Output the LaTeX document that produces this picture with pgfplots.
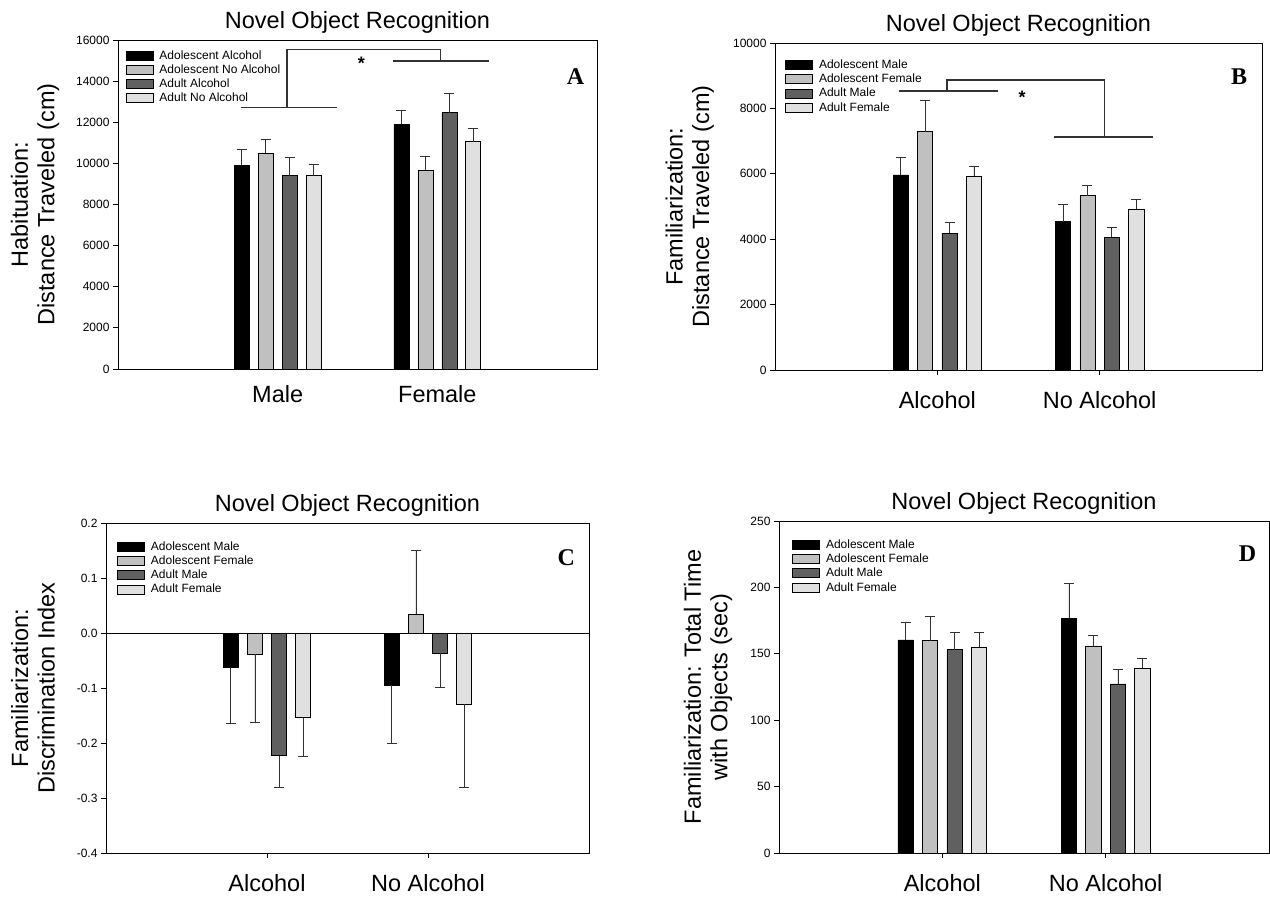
\documentclass[border=0pt]{standalone}
\usepackage{pgfplots}
\pgfplotsset{compat=1.18}
\usepackage{fontspec}
\setmainfont{Liberation Sans}
\newfontfamily\seriffont{Liberation Serif}
\definecolor{cA}{RGB}{0,0,0}
\definecolor{cB}{RGB}{192,192,192}
\definecolor{cC}{RGB}{96,96,96}
\definecolor{cD}{RGB}{224,224,224}
\pgfplotsset{
  panel/.style={
    scale only axis, clip=false,
    xmin=0, xmax=3, xtick={1,2},
    ytick pos=left, xtick pos=bottom,
    tick align=outside, major tick length=5pt,
    axis line style={black, line width=0.8pt},
    tick style={black, line width=0.8pt},
    /pgf/number format/assume math mode=true,
    /pgf/number format/1000 sep={},
    scaled y ticks=false,
    yticklabel style={font=\fontsize{12}{14}\selectfont},
    xticklabel style={font=\fontsize{23.5}{27}\selectfont, anchor=center, yshift=-25pt},
    title style={font=\fontsize{23.5}{27}\selectfont, at={(axis description cs:0.5,1)}, anchor=center, yshift=12pt},
    ylabel style={font=\fontsize{23.5}{26.5}\selectfont, align=center, anchor=center},
    ybar, bar width=0.094, bar shift=0pt,
    legend style={draw=none, fill=none, inner sep=0pt, font=\fontsize{12}{14}\selectfont, row sep=0pt, column sep=4pt, cells={anchor=west}},
    legend cell align=left,
    legend image code/.code={\draw[#1, draw=black, line width=0.6pt] (0pt,-4.5pt) rectangle (27pt,4.5pt);},
  },
  errs/.style={error bars/.cd, y dir=#1, y explicit,
    error bar style={black!80, line width=0.7pt},
    error mark options={black!80, line width=0.7pt, mark size=5pt, rotate=90}},
  bar1/.style={fill=cA, draw=black, line width=0.6pt},
  bar2/.style={fill=cB, draw=black, line width=0.6pt},
  bar3/.style={fill=cC, draw=black, line width=0.6pt},
  bar4/.style={fill=cD, draw=black, line width=0.6pt},
}
\tikzset{bracket/.style={black!80, line width=1.6pt},
  letter/.style={font=\seriffont\bfseries\fontsize{24}{26}\selectfont}}
\begin{document}
\begin{tikzpicture}
\useasboundingbox (0,0) rectangle (1270pt,897pt);
% ---------------- Panel A ----------------
\begin{axis}[panel, at={(118pt,528pt)}, anchor=south west, width=479pt, height=329pt,
  ymin=0, ymax=16000, ytick={0,2000,...,16000},
  xticklabels={Male,Female}, xtick style={draw=none},
  xticklabel style={yshift=5pt},
  title={Novel Object Recognition},
  ylabel={Habituation:\\Distance Traveled (cm)},
  ylabel style={at={(axis description cs:-0.173,0.5)}},
  legend style={at={(0.016,0.975)}, anchor=north west}]
\addplot[bar1, errs=plus] coordinates {(0.775,9915) +- (0,779) (1.775,11894) +- (0,682)};
\addplot[bar2, errs=plus] coordinates {(0.925,10499) +- (0,681) (1.925,9671) +- (0,649)};
\addplot[bar3, errs=plus] coordinates {(1.075,9396) +- (0,908) (2.075,12463) +- (0,924)};
\addplot[bar4, errs=plus] coordinates {(1.225,9400) +- (0,547) (2.225,11051) +- (0,633)};
\legend{Adolescent Alcohol, Adolescent No Alcohol, Adult Alcohol, Adult No Alcohol}
\draw[bracket] (axis cs:0.768,12722) -- (axis cs:1.370,12722);
\draw[bracket] (axis cs:1.060,12722) -- (axis cs:1.060,15546) -- (axis cs:2.021,15546) -- (axis cs:2.021,14978);
\draw[bracket] (axis cs:1.721,14978) -- (axis cs:2.326,14978);
\node[font=\fontsize{18}{20}\selectfont\bfseries] at (axis cs:1.525,14850) {*};
\node[letter] at (rel axis cs:0.955,0.89) {A};
\end{axis}
% ---------------- Panel B ----------------
\begin{axis}[panel, at={(775pt,527pt)}, anchor=south west, width=487pt, height=327pt,
  ymin=0, ymax=10000, ytick={0,2000,...,10000},
  xticklabels={Alcohol,No Alcohol},
  title={Novel Object Recognition},
  ylabel={Familiarization:\\Distance Traveled (cm)},
  ylabel style={at={(axis description cs:-0.175,0.5)}},
  legend style={at={(0.021,0.955)}, anchor=north west}]
\addplot[bar1, errs=plus] coordinates {(0.775,5967) +- (0,550) (1.775,4532) +- (0,519)};
\addplot[bar2, errs=plus] coordinates {(0.925,7291) +- (0,968) (1.925,5336) +- (0,306)};
\addplot[bar3, errs=plus] coordinates {(1.075,4185) +- (0,336) (2.075,4063) +- (0,285)};
\addplot[bar4, errs=plus] coordinates {(1.225,5937) +- (0,285) (2.225,4929) +- (0,275)};
\legend{Adolescent Male, Adolescent Female, Adult Male, Adult Female}
\draw[bracket] (axis cs:0.763,8534) -- (axis cs:1.376,8534);
\draw[bracket] (axis cs:1.061,8534) -- (axis cs:1.061,8870) -- (axis cs:2.030,8870) -- (axis cs:2.030,7130);
\draw[bracket] (axis cs:1.717,7130) -- (axis cs:2.328,7130);
\node[font=\fontsize{18}{20}\selectfont\bfseries] at (axis cs:1.523,8330) {*};
\node[letter] at (rel axis cs:0.953,0.898) {B};
\end{axis}
% ---------------- Panel C ----------------
\begin{axis}[panel, at={(106pt,44pt)}, anchor=south west, width=483pt, height=330pt,
  ymin=-0.4, ymax=0.2, ytick={-0.4,-0.3,-0.2,-0.1,0,0.1,0.2},
  yticklabel style={/pgf/number format/.cd, fixed, fixed zerofill, precision=1},
  xticklabels={Alcohol,No Alcohol},
  title={Novel Object Recognition},
  ylabel={Familiarization:\\Discrimination Index},
  ylabel style={at={(axis description cs:-0.151,0.5)}},
  legend style={at={(0.023,0.95)}, anchor=north west}]
\addplot[bar1, errs=minus] coordinates {(0.775,-0.062) +- (0,0.103) (1.775,-0.095) +- (0,0.106)};
\addplot[bar2, errs=minus] coordinates {(0.925,-0.039) +- (0,0.124)};
\addplot[bar3, errs=minus] coordinates {(1.075,-0.223) +- (0,0.057) (2.075,-0.036) +- (0,0.062)};
\addplot[bar4, errs=minus] coordinates {(1.225,-0.154) +- (0,0.071) (2.225,-0.129) +- (0,0.152)};
\addplot[forget plot, bar2, errs=plus] coordinates {(1.925,0.034) +- (0,0.117)};
\legend{Adolescent Male, Adolescent Female, Adult Male, Adult Female}
\draw[black, line width=0.7pt] (axis cs:0,0) -- (axis cs:3,0);
\node[letter] at (rel axis cs:0.953,0.894) {C};
\end{axis}
% ---------------- Panel D ----------------
\begin{axis}[panel, at={(779pt,44pt)}, anchor=south west, width=490pt, height=332pt,
  ymin=0, ymax=250, ytick={0,50,...,250},
  xticklabels={Alcohol,No Alcohol},
  title={Novel Object Recognition},
  ylabel={Familiarization: Total Time\\with Objects (sec)},
  ylabel style={at={(axis description cs:-0.145,0.5)}},
  legend style={at={(0.027,0.95)}, anchor=north west}]
\addplot[bar1, errs=plus] coordinates {(0.775,160.5) +- (0,13.5) (1.775,176.8) +- (0,26.1)};
\addplot[bar2, errs=plus] coordinates {(0.925,160.0) +- (0,18.0) (1.925,156.0) +- (0,8.0)};
\addplot[bar3, errs=plus] coordinates {(1.075,153.2) +- (0,12.8) (2.075,127.4) +- (0,10.8)};
\addplot[bar4, errs=plus] coordinates {(1.225,155.0) +- (0,11.0) (2.225,139.4) +- (0,7.5)};
\legend{Adolescent Male, Adolescent Female, Adult Male, Adult Female}
\node[letter] at (rel axis cs:0.956,0.903) {D};
\end{axis}
\end{tikzpicture}
\end{document}
